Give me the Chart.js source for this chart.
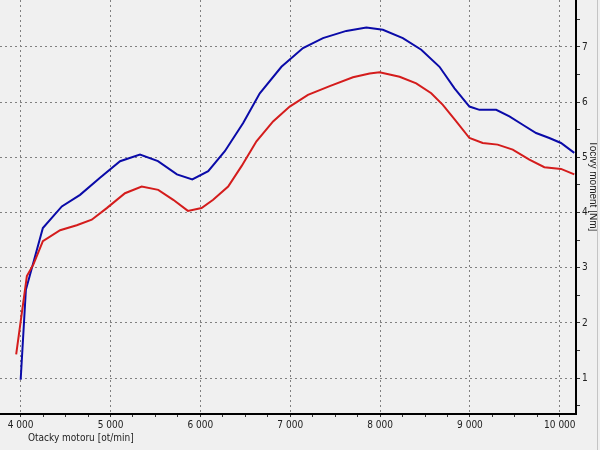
<!DOCTYPE html>
<html>
<head>
<meta charset="utf-8">
<script src="https://cdn.jsdelivr.net/npm/chart.js@4.4.1/dist/chart.umd.min.js"></script>
<style>
  html, body { margin: 0; padding: 0; background: #f0f0f0; }
  canvas { display: block; }
</style>
</head>
<body>
<canvas id="torqueChart" width="600" height="450"></canvas>
<script>
// otacky [ot/min] a tocivy moment [Nm]
const blueRpm = [4000, 4058, 4247, 4458, 4661, 4883, 5106, 5328, 5528, 5739, 5910, 6087, 6272, 6476, 6661, 6902, 7142, 7364, 7624, 7847, 8031, 8253, 8458, 8661, 8828, 8994, 9106, 9292, 9439, 9587, 9736, 9883, 10013, 10161];
const blueTorque = [0.97, 2.6, 3.72, 4.11, 4.32, 4.63, 4.93, 5.05, 4.93, 4.69, 4.6, 4.75, 5.11, 5.62, 6.16, 6.64, 6.98, 7.16, 7.29, 7.35, 7.31, 7.16, 6.95, 6.64, 6.25, 5.92, 5.86, 5.86, 5.74, 5.59, 5.44, 5.35, 5.26, 5.08];

const redRpm = [3950, 4069, 4142, 4247, 4439, 4624, 4791, 4958, 5161, 5347, 5531, 5698, 5861, 6013, 6142, 6309, 6458, 6624, 6809, 6994, 7197, 7439, 7698, 7883, 7994, 8217, 8402, 8569, 8698, 8847, 8994, 9142, 9308, 9476, 9661, 9828, 10013, 10161];
const redTorque = [1.43, 2.85, 3.06, 3.48, 3.68, 3.77, 3.87, 4.08, 4.35, 4.47, 4.41, 4.23, 4.03, 4.08, 4.23, 4.47, 4.84, 5.29, 5.65, 5.92, 6.13, 6.29, 6.45, 6.52, 6.54, 6.46, 6.34, 6.16, 5.95, 5.65, 5.35, 5.26, 5.23, 5.14, 4.96, 4.82, 4.79, 4.69];

const xMajorTicks = [4000, 5000, 6000, 7000, 8000, 9000, 10000];
const xMinorTicks = [4250, 4500, 4750, 5250, 5500, 5750, 6250, 6500, 6750, 7250, 7500, 7750, 8250, 8500, 8750, 9250, 9500, 9750];
const yMajorTicks = [1, 2, 3, 4, 5, 6, 7];
const yMinorTicks = [0.5, 1.5, 2.5, 3.5, 4.5, 5.5, 6.5, 7.5];

const xTitle = "Otacky motoru [ot/min]";
const yTitle = "Tocivý moment [Nm]";

const tickFont = { family: "'Liberation Sans Narrow', 'DejaVu Sans Condensed', 'Liberation Sans'", size: 10 };

const toPoints = (xs, ys) => xs.map((x, i) => ({ x: x, y: ys[i] }));
const fmtRpm = v => String(v).replace(/\B(?=(\d{3})+(?!\d))/g, " ");

const chartStyle = {
  id: "chartStyle",
  beforeDraw(chart) {
    const ctx = chart.ctx;
    ctx.save();
    ctx.fillStyle = "#f0f0f0";
    ctx.fillRect(0, 0, chart.width, chart.height);
    ctx.restore();
  },
  afterDraw(chart) {
    const ctx = chart.ctx;
    ctx.save();
    ctx.fillStyle = "#222";
    ctx.textBaseline = "middle";
    ctx.font = "10px 'Liberation Sans Narrow', 'DejaVu Sans Condensed', 'Liberation Sans'";
    ctx.textAlign = "left";
    ctx.fillText(xTitle, 28, 438);

    ctx.font = "10px 'Liberation Sans'";
    ctx.textAlign = "center";
    ctx.translate(593, 186);
    ctx.rotate(Math.PI / 2);
    ctx.fillText(yTitle, 0, 0);
    ctx.restore();

    // okraj okna vpravo
    ctx.save();
    ctx.strokeStyle = "#c4c4c4";
    ctx.lineWidth = 1;
    ctx.beginPath();
    ctx.moveTo(597.5, 0);
    ctx.lineTo(597.5, chart.height);
    ctx.stroke();
    ctx.restore();
  }
};

const ctx = document.getElementById("torqueChart").getContext("2d");
new Chart(ctx, {
  type: "line",
  data: {
    datasets: [
      {
        label: "red",
        data: toPoints(redRpm, redTorque),
        borderColor: "#d41c1c",
        borderWidth: 2,
        pointRadius: 0,
        tension: 0
      },
      {
        label: "blue",
        data: toPoints(blueRpm, blueTorque),
        borderColor: "#0a0aa8",
        borderWidth: 2,
        pointRadius: 0,
        tension: 0
      }
    ]
  },
  options: {
    responsive: false,
    animation: false,
    devicePixelRatio: 1,
    layout: { padding: 0 },
    plugins: {
      legend: { display: false },
      tooltip: { enabled: false }
    },
    scales: {
      x: {
        type: "linear",
        position: "bottom",
        min: 3770,
        max: 10180,
        afterBuildTicks: s => {
          s.ticks = xMajorTicks.concat(xMinorTicks).sort((a, b) => a - b).map(v => ({ value: v }));
        },
        afterFit: s => {
          s.height = 36;
          s.paddingLeft = 0;
          s.paddingRight = 0;
        },
        ticks: {
          autoSkip: false,
          maxRotation: 0,
          padding: 2,
          color: "#222",
          font: tickFont,
          callback: v => xMajorTicks.includes(v) ? fmtRpm(v) : ""
        },
        grid: {
          color: c => c.tick && xMajorTicks.includes(c.tick.value) ? "#808080" : "rgba(0,0,0,0)",
          tickColor: "#333",
          tickLength: 3,
          lineWidth: 1
        },
        border: { color: "#000", width: 2, dash: [2, 3] }
      },
      y: {
        type: "linear",
        position: "right",
        min: 0.35,
        max: 7.85,
        afterBuildTicks: s => {
          s.ticks = yMajorTicks.concat(yMinorTicks).sort((a, b) => a - b).map(v => ({ value: v }));
        },
        afterFit: s => {
          s.width = 24;
          s.paddingTop = 0;
          s.paddingBottom = 0;
        },
        ticks: {
          autoSkip: false,
          padding: 2,
          color: "#222",
          font: tickFont,
          callback: v => yMajorTicks.includes(v) ? String(v) : ""
        },
        grid: {
          color: c => c.tick && yMajorTicks.includes(c.tick.value) ? "#808080" : "rgba(0,0,0,0)",
          tickColor: "#333",
          tickLength: 4,
          lineWidth: 1
        },
        border: { color: "#000", width: 2, dash: [2, 3] }
      }
    }
  },
  plugins: [chartStyle]
});
</script>
</body>
</html>
